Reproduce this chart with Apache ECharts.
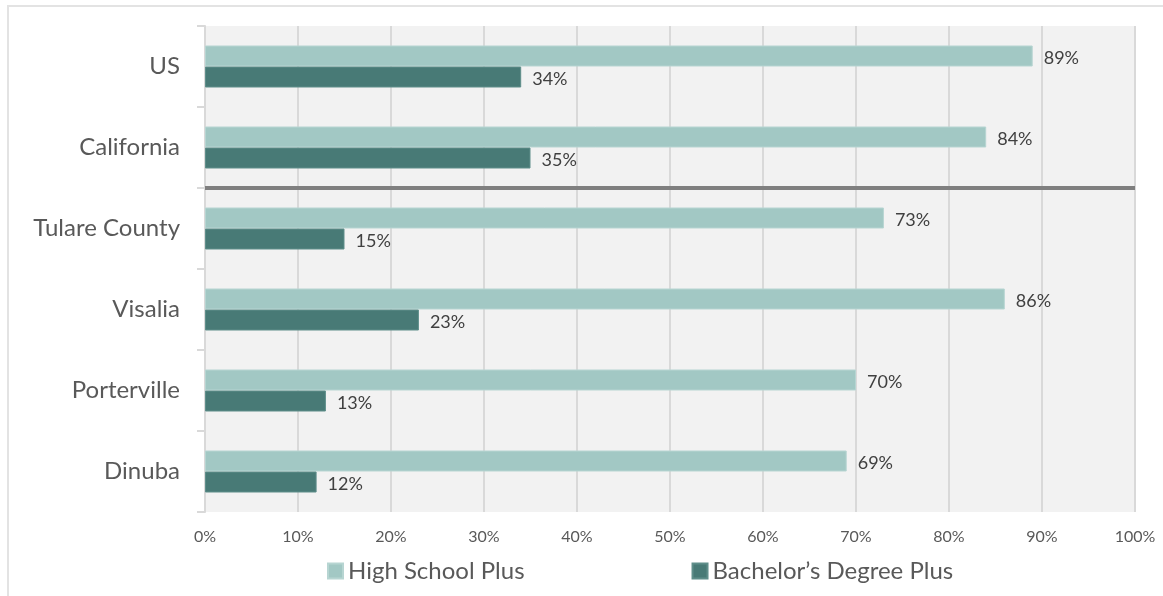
<!DOCTYPE html>
<html><head><meta charset="utf-8">
<script src="https://cdn.jsdelivr.net/npm/echarts@6/dist/echarts.min.js"></script>
<style>
html,body{margin:0;padding:0;background:#fff;}
#frame{position:absolute;left:7px;top:5px;width:1170px;height:610px;border:2px solid #e3e3e3;box-sizing:border-box;}
#chart{position:absolute;left:0;top:0;width:1163px;height:596px;}
</style></head>
<body>
<div id="frame"></div>
<div id="chart"></div>
<script>
const categories = ['US', 'California', 'Tulare County', 'Visalia', 'Porterville', 'Dinuba'];
const highSchool = [89, 84, 73, 86, 70, 69];
const bachelor = [34, 35, 15, 23, 13, 12];
const seriesNames = ['High School Plus', 'Bachelor\u2019s Degree Plus'];
const xTicks = [0, 10, 20, 30, 40, 50, 60, 70, 80, 90, 100];
const separatorAfter = 2; // line between the state-level rows and the county rows

const FONT = 'Lato, "Open Sans", sans-serif';
const chart = echarts.init(document.getElementById('chart'), null, {renderer: 'canvas'});
const labelCfg = {show: true, position: 'right', distance: 11, offset: [0, 2], formatter: p => p.value + '%', fontFamily: FONT, fontSize: 18, color: '#404040'};
chart.setOption({
  animation: false,
  textStyle: {fontFamily: FONT},
  grid: {left: 205, right: 28, top: 26, bottom: 84, show: true, backgroundColor: '#f2f2f2', borderWidth: 0, containLabel: false},
  legend: {
    top: 554, left: 322, itemGap: 167, itemWidth: 15, itemHeight: 15, icon: 'rect',
    textStyle: {fontFamily: FONT, fontSize: 24, color: '#595959'},
    data: seriesNames
  },
  xAxis: {
    type: 'value', min: xTicks[0], max: xTicks[xTicks.length - 1], interval: 10,
    axisLine: {show: false}, axisTick: {show: false},
    axisLabel: {formatter: v => v + '%', fontFamily: FONT, fontSize: 16, color: '#595959', margin: 17},
    splitLine: {lineStyle: {color: '#d9d9d9', width: 2}}
  },
  yAxis: [{
    type: 'category', data: categories, inverse: true,
    axisLine: {show: true, lineStyle: {color: '#d9d9d9', width: 2}},
    axisTick: {show: true, length: 8, lineStyle: {color: '#d9d9d9', width: 2}},
    axisLabel: {fontFamily: FONT, fontSize: 24, color: '#595959', margin: 25, padding: [4, 0, 0, 0]},
    splitLine: {show: false}
  }, {
    type: 'value', min: 0, max: categories.length, inverse: true, show: false
  }],
  series: [
    {name: seriesNames[0], type: 'bar', data: highSchool, barWidth: 21, barGap: '0%',
     itemStyle: {color: '#a2c8c4', borderColor: '#b7d5d2', borderWidth: 1}, label: labelCfg},
    {name: seriesNames[1], type: 'bar', data: bachelor, barWidth: 21, barGap: '0%',
     itemStyle: {color: '#487a76', borderColor: '#5f8e8a', borderWidth: 1}, label: labelCfg},
    {type: 'line', yAxisIndex: 1, data: [], silent: true,
     markLine: {silent: true, symbol: 'none', label: {show: false},
       lineStyle: {color: '#7f7f7f', width: 4, type: 'solid'},
       data: [{yAxis: separatorAfter}]}}
  ]
});
</script>
</body></html>
